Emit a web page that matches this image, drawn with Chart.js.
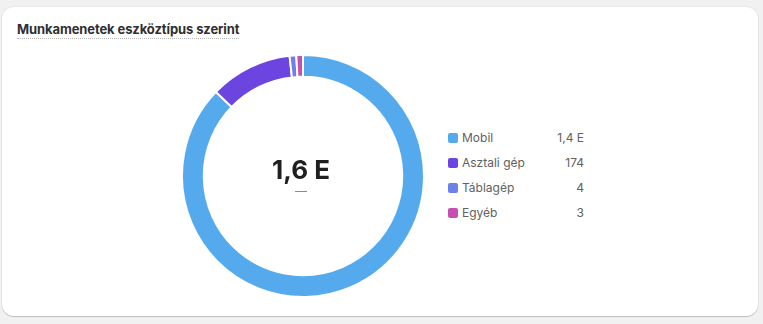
<!DOCTYPE html>
<html lang="hu">
<head>
    <meta charset="UTF-8">
    <title>Munkamenetek eszköztípus szerint</title>
    <style>
        body { margin: 0; background: #f1f1f1; font-family: Inter, "Noto Sans", sans-serif; }
        .card { position: absolute; left: 2px; top: 7px; width: 756px; height: 309px; background: #fff;
                border-radius: 12px; box-shadow: 0 1px 1px rgba(0,0,0,0.18), 0 0 0 1px rgba(0,0,0,0.04); }
        .title { position: absolute; left: 15px; top: 14px; font-size: 13px; font-weight: 650; color: #303030;
                 border-bottom: 1px dotted #b5b5b5; padding-bottom: 1px; letter-spacing: -0.1px; }
        .chart { position: absolute; left: 179px; top: 47px; width: 244px; height: 244px; }
        .center { position: absolute; left: 199px; top: 148px; width: 200px; text-align: center; }
        .total { font-size: 26px; font-weight: 700; color: #1f1f1f; line-height: 30px; }
        .dash { font-size: 12px; color: #8a8a8a; line-height: 14px; margin-top: -1px; }
        .legend { position: absolute; left: 446px; top: 118px; width: 136px; }
        .row { display: flex; align-items: center; height: 25px; font-size: 12px; color: #616161; }
        .sw { width: 10px; height: 10px; border-radius: 2px; margin-right: 4px; }
        .lbl { flex: 1; }
    </style>
</head>
<body>
    <div class="card">
        <div class="title">Munkamenetek eszköztípus szerint</div>
        <div class="chart"><canvas id="myChart"></canvas></div>
        <div class="center"><div class="total" id="total"></div><div class="dash">—</div></div>
        <div class="legend" id="legend"></div>
    </div>

    <script src="https://cdn.jsdelivr.net/npm/chart.js@4/dist/chart.umd.min.js"></script>
    <script>
    var labels = ['Mobil', 'Asztali gép', 'Táblagép', 'Egyéb'];
    var values = [1380, 174, 4, 3];
    var colors = ['#55aaee', '#6c44e0', '#6a80ea', '#c64fb2'];

    // Hungarian short format: 1,6 E (ezer)
    function fmt(v) {
        if (v >= 1000) return (Math.round(v / 100) / 10).toString().replace('.', ',') + ' E';
        return String(v);
    }

    var total = values.reduce((a, b) => a + b, 0);
    document.getElementById('total').textContent = fmt(total);

    // tiny slices get a minimum visible size, like the original widget
    var minSlice = total * 0.009;
    var drawn = values.map(v => Math.max(v, minSlice));

    var legend = document.getElementById('legend');
    labels.forEach((l, i) => {
        legend.innerHTML += '<div class="row"><div class="sw" style="background:' + colors[i] + '"></div>' +
            '<div class="lbl">' + l + '</div><div>' + fmt(values[i]) + '</div></div>';
    });

    var ctx = document.getElementById('myChart');
    var myChart = new Chart(ctx, {
        type: 'doughnut',
        data: {
            labels: labels,
            datasets: [{
                data: drawn,
                backgroundColor: colors,
                borderColor: '#ffffff',
                borderWidth: 2,
                hoverOffset: 0
            }]
        },
        options: {
            maintainAspectRatio: false,
            animation: false,
            cutout: '82%',
            layout: { padding: 0 },
            plugins: { legend: { display: false }, tooltip: { enabled: false } }
        }
    });
    </script>
</body>
</html>
